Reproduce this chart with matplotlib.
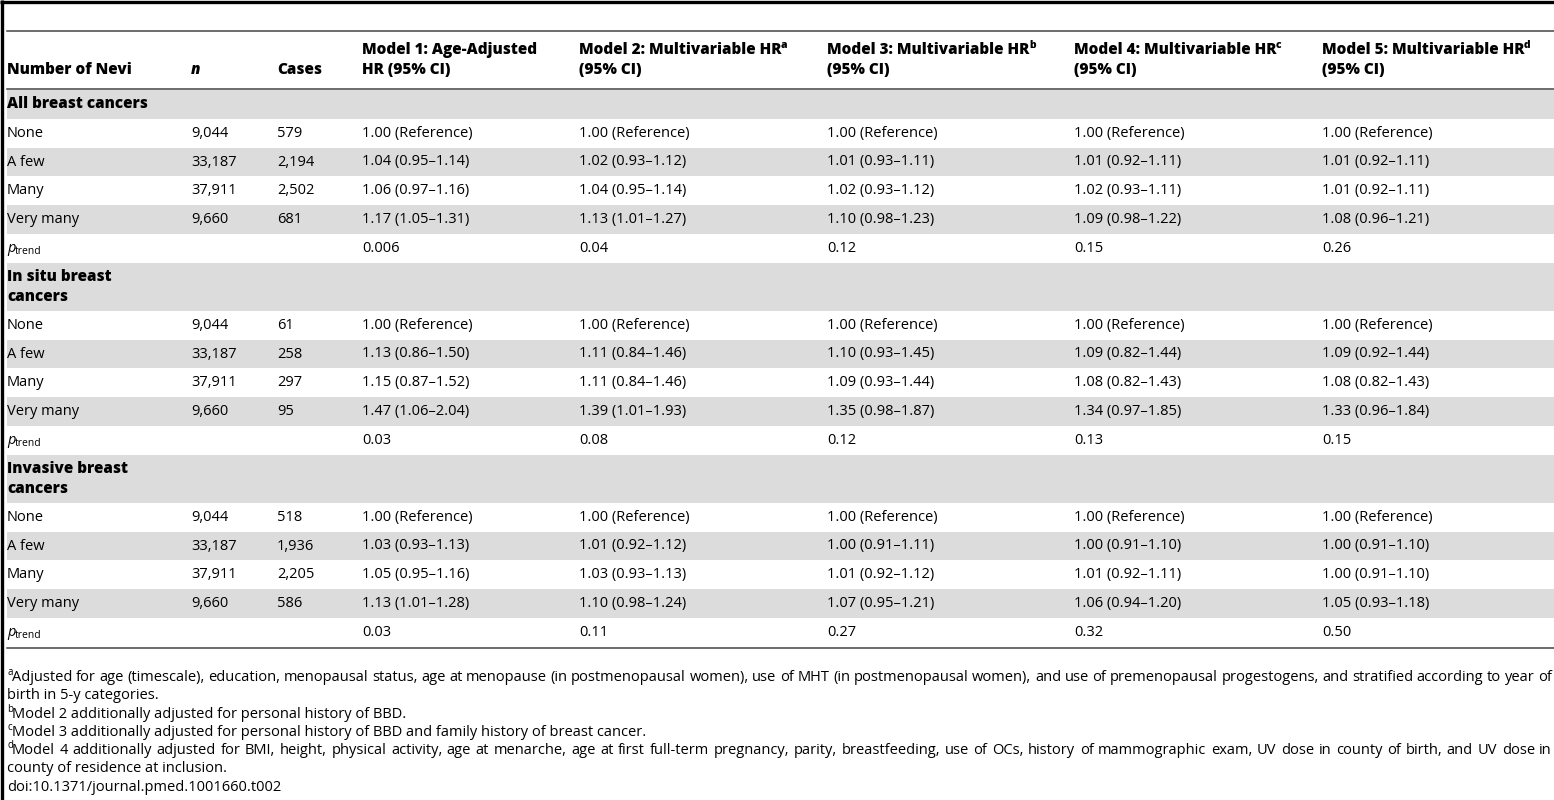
import numpy as np
import matplotlib
matplotlib.use("Agg")
import matplotlib.pyplot as plt
from matplotlib.patches import Rectangle

plt.rcParams['font.family'] = ['Open Sans', 'DejaVu Sans']

# ---------------- data ----------------
levels = ["None", "A few", "Many", "Very many"]
n_women = ["9,044", "33,187", "37,911", "9,660"]

sections = ["All breast cancers", "In situ breast\ncancers", "Invasive breast\ncancers"]
cases = [["579", "2,194", "2,502", "681"],
         ["61", "258", "297", "95"],
         ["518", "1,936", "2,205", "586"]]

# rows: A few, Many, Very many ; columns: model 1..5
hr_all = [[1.04, 1.02, 1.01, 1.01, 1.01],
          [1.06, 1.04, 1.02, 1.02, 1.01],
          [1.17, 1.13, 1.10, 1.09, 1.08]]
lo_all = [[0.95, 0.93, 0.93, 0.92, 0.92],
          [0.97, 0.95, 0.93, 0.93, 0.92],
          [1.05, 1.01, 0.98, 0.98, 0.96]]
hi_all = [[1.14, 1.12, 1.11, 1.11, 1.11],
          [1.16, 1.14, 1.12, 1.11, 1.11],
          [1.31, 1.27, 1.23, 1.22, 1.21]]

hr_situ = [[1.13, 1.11, 1.10, 1.09, 1.09],
           [1.15, 1.11, 1.09, 1.08, 1.08],
           [1.47, 1.39, 1.35, 1.34, 1.33]]
lo_situ = [[0.86, 0.84, 0.93, 0.82, 0.92],
           [0.87, 0.84, 0.93, 0.82, 0.82],
           [1.06, 1.01, 0.98, 0.97, 0.96]]
hi_situ = [[1.50, 1.46, 1.45, 1.44, 1.44],
           [1.52, 1.46, 1.44, 1.43, 1.43],
           [2.04, 1.93, 1.87, 1.85, 1.84]]

hr_inv = [[1.03, 1.01, 1.00, 1.00, 1.00],
          [1.05, 1.03, 1.01, 1.01, 1.00],
          [1.13, 1.10, 1.07, 1.06, 1.05]]
lo_inv = [[0.93, 0.92, 0.91, 0.91, 0.91],
          [0.95, 0.93, 0.92, 0.92, 0.91],
          [1.01, 0.98, 0.95, 0.94, 0.93]]
hi_inv = [[1.13, 1.12, 1.11, 1.10, 1.10],
          [1.16, 1.13, 1.12, 1.11, 1.10],
          [1.28, 1.24, 1.21, 1.20, 1.18]]

p_trend = [["0.006", "0.04", "0.12", "0.15", "0.26"],
           ["0.03", "0.08", "0.12", "0.13", "0.15"],
           ["0.03", "0.11", "0.27", "0.32", "0.50"]]

header_top = ["Model 1: Age-Adjusted", "Model 2: Multivariable HR", "Model 3: Multivariable HR",
              "Model 4: Multivariable HR", "Model 5: Multivariable HR"]
header_sup = ["", "a", "b", "c", "d"]
header_bottom = ["HR (95% CI)", "(95% CI)", "(95% CI)", "(95% CI)", "(95% CI)"]

footnotes = [
    ("a", "Adjusted for age (timescale), education, menopausal status, age at menopause (in postmenopausal women), use of MHT (in postmenopausal women), and use of premenopausal progestogens, and stratified according to year of\nbirth in 5-y categories."),
    ("b", "Model 2 additionally adjusted for personal history of BBD."),
    ("c", "Model 3 additionally adjusted for personal history of BBD and family history of breast cancer."),
    ("d", "Model 4 additionally adjusted for BMI, height, physical activity, age at menarche, age at first full-term pregnancy, parity, breastfeeding, use of OCs, history of mammographic exam, UV dose in county of birth, and UV dose in\ncounty of residence at inclusion."),
]
doi = "doi:10.1371/journal.pmed.1001660.t002"

# ---------------- layout ----------------
W, H = 1554, 800
col_x = [7, 191, 277, 362, 579, 827, 1074, 1322]
FS = 10.5
BFS = 11
BW = 'heavy'
SHADE = '#dcdcdc'
row_h = 28.8
row_h2 = 48

fig = plt.figure(figsize=(W / 100, H / 100), dpi=100)
ax = fig.add_axes([0, 0, 1, 1])
ax.set_xlim(0, W)
ax.set_ylim(H, 0)
ax.axis('off')
renderer = fig.canvas.get_renderer()
inv = ax.transData.inverted()


def right_edge(t):
    bb = t.get_window_extent(renderer=renderer)
    return inv.transform((bb.x1, bb.y0))[0]


def text_with_tag(x, y, main, tag, dy, fs=FS, tag_fs=7.5, **kw):
    t = ax.text(x, y, main, fontsize=fs, va='center', ha='left', **kw)
    ax.text(right_edge(t) - 0.5, y + dy, tag, fontsize=tag_fs, va='center', ha='left',
            fontweight=kw.get('fontweight', 'normal'))


def justified(x0, x1, yb, line):
    words = line.split(" ")
    widths = []
    for w in words:
        t = ax.text(0, -100, w, fontsize=FS)
        widths.append(right_edge(t))
        t.remove()
    gap = (x1 - x0 - sum(widths)) / (len(words) - 1)
    x = x0
    for w, wd in zip(words, widths):
        ax.text(x, yb, w, fontsize=FS, va='baseline')
        x += wd + gap


# rules and frame
ax.plot([0, W], [1.5, 1.5], color='black', lw=2.4, solid_capstyle='butt')
ax.plot([1.5, 1.5], [0, H], color='black', lw=2.4, solid_capstyle='butt')
ax.plot([7, W], [31, 31], color='#444444', lw=1.1)
ax.plot([7, W], [89, 89], color='#444444', lw=1.1)

# header
ax.text(col_x[0], 70, "Number of Nevi", fontsize=BFS, fontweight=BW, va='center')
ax.text(col_x[1], 70, "n", fontsize=BFS, fontweight=BW, style='italic', va='center')
ax.text(col_x[2], 70, "Cases", fontsize=BFS, fontweight=BW, va='center')
for i in range(5):
    if header_sup[i]:
        text_with_tag(col_x[3 + i], 50, header_top[i], header_sup[i], -5, fs=BFS, fontweight=BW)
    else:
        ax.text(col_x[3 + i], 50, header_top[i], fontsize=BFS, fontweight=BW, va='center')
    ax.text(col_x[3 + i], 70, header_bottom[i], fontsize=BFS, fontweight=BW, va='center')

hr_sets = [(hr_all, lo_all, hi_all), (hr_situ, lo_situ, hi_situ), (hr_inv, lo_inv, hi_inv)]

y = 90
for s, name in enumerate(sections):
    h = row_h2 if "\n" in name else row_h
    ax.add_patch(Rectangle((7, y), W - 7, h, color=SHADE, lw=0))
    ax.text(col_x[0], y + h / 2, name, fontsize=BFS, fontweight=BW, va='center',
            linespacing=1.35)
    y += h
    hr, lo, hi = hr_sets[s]
    for r, lev in enumerate(levels):
        if r % 2 == 1:
            ax.add_patch(Rectangle((7, y), W - 7, row_h, color=SHADE, lw=0))
        yc = y + row_h / 2
        ax.text(col_x[0], yc, lev, fontsize=FS, va='center')
        ax.text(col_x[1], yc, n_women[r], fontsize=FS, va='center')
        ax.text(col_x[2], yc, cases[s][r], fontsize=FS, va='center')
        for m in range(5):
            if r == 0:
                cell = "1.00 (Reference)"
            else:
                cell = f"{hr[r - 1][m]:.2f} ({lo[r - 1][m]:.2f}\u2013{hi[r - 1][m]:.2f})"
            ax.text(col_x[3 + m], yc, cell, fontsize=FS, va='center')
        y += row_h
    yc = y + row_h / 2
    text_with_tag(col_x[0], yc, "p", "trend", 3, tag_fs=7.5, style='italic')
    for m in range(5):
        ax.text(col_x[3 + m], yc, p_trend[s][m], fontsize=FS, va='center')
    y += row_h

ax.plot([7, W], [y + 1, y + 1], color='#444444', lw=1.1)

# footnotes (baseline positioned)
fy = 681
for tag, note in footnotes:
    ax.text(col_x[0], fy - 6, tag, fontsize=7, va='baseline')
    lines = note.split("\n")
    for k, line in enumerate(lines):
        x0 = col_x[0] + (5 if k == 0 else 0)
        if k < len(lines) - 1:
            justified(x0, W - 2, fy, line)
        else:
            ax.text(x0, fy, line, fontsize=FS, va='baseline')
        fy += 18.3
ax.text(col_x[0], fy, doi, fontsize=FS, va='baseline')

fig.savefig("out.png", dpi=100, facecolor='white')
